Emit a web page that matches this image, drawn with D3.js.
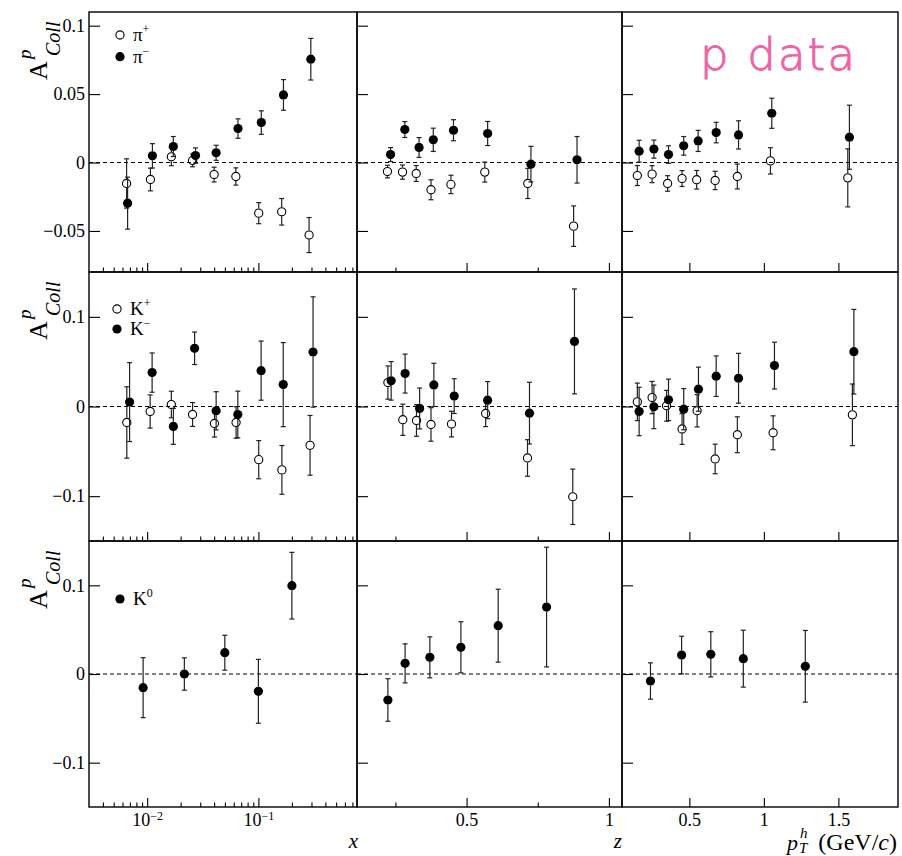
<!DOCTYPE html>
<html>
<head>
<meta charset="utf-8">
<script src="https://cdn.jsdelivr.net/npm/d3@7"></script>
<style>
  body { margin: 0; background: #fff; }
  svg text { font-family: "Liberation Serif", "Times New Roman", serif; fill: #000; }
</style>
</head>
<body>
<svg id="chart" width="902" height="856"></svg>
<script>
// each point: [bin centre, A_Coll, stat. error]
var piPlusX  = [[0.00653,-0.0153,0.018],[0.0107,-0.0124,0.0083],[0.0165,0.0042,0.0065],[0.0256,0.0015,0.0046],[0.0400,-0.0088,0.0054],[0.0627,-0.0102,0.0063],[0.1007,-0.037,0.0077],[0.162,-0.036,0.0097],[0.2856,-0.053,0.0128]];
var piMinusX = [[0.00667,-0.0297,0.019],[0.01115,0.0049,0.0089],[0.01718,0.0117,0.0073],[0.0272,0.0051,0.0056],[0.0417,0.0071,0.0055],[0.0656,0.0248,0.0071],[0.1062,0.0292,0.0086],[0.168,0.0494,0.0112],[0.296,0.0755,0.0152]];
var piPlusZ  = [[0.222,-0.0066,0.0046],[0.275,-0.0070,0.0052],[0.323,-0.008,0.0058],[0.375,-0.0199,0.0073],[0.445,-0.016,0.0067],[0.564,-0.007,0.0073],[0.715,-0.0153,0.011],[0.876,-0.0465,0.0148]];
var piMinusZ = [[0.233,0.0058,0.0051],[0.283,0.0241,0.0058],[0.333,0.011,0.0072],[0.383,0.0166,0.0085],[0.454,0.0236,0.0077],[0.574,0.0212,0.0088],[0.726,-0.0012,0.013],[0.888,0.002,0.017]];
var piPlusPt  = [[0.151,-0.0095,0.0073],[0.250,-0.0085,0.0062],[0.354,-0.0153,0.0057],[0.451,-0.0117,0.0058],[0.549,-0.0126,0.0068],[0.673,-0.0131,0.0067],[0.822,-0.0102,0.0091],[1.044,0.0012,0.0096],[1.563,-0.0112,0.0212]];
var piMinusPt = [[0.163,0.0083,0.008],[0.262,0.0098,0.0066],[0.360,0.0058,0.0064],[0.462,0.0122,0.0068],[0.559,0.0158,0.0077],[0.680,0.0219,0.0075],[0.830,0.0202,0.0103],[1.053,0.036,0.011],[1.574,0.0185,0.0234]];

var kPlusX  = [[0.00656,-0.0178,0.0398],[0.01064,-0.0056,0.0185],[0.0165,0.0022,0.0148],[0.0256,-0.0089,0.0133],[0.0403,-0.0189,0.0152],[0.063,-0.0178,0.0176],[0.1007,-0.0593,0.0213],[0.1627,-0.0707,0.0272],[0.2914,-0.0433,0.0333]];
var kMinusX = [[0.00695,0.0049,0.044],[0.01108,0.0378,0.0219],[0.0172,-0.0222,0.02],[0.0267,0.0649,0.0181],[0.0417,-0.0048,0.0213],[0.0653,-0.0089,0.026],[0.1058,0.04,0.033],[0.1672,0.0244,0.0469],[0.31,0.0608,0.0615]];
var kPlusZ  = [[0.2235,0.0267,0.0185],[0.276,-0.0148,0.0174],[0.324,-0.0156,0.0176],[0.375,-0.02,0.0187],[0.447,-0.0196,0.0143],[0.567,-0.0078,0.0146],[0.714,-0.0574,0.0204],[0.873,-0.1007,0.0309]];
var kMinusZ = [[0.235,0.0286,0.0215],[0.284,0.0367,0.0217],[0.335,-0.0022,0.0228],[0.385,0.0241,0.0241],[0.4565,0.0116,0.0194],[0.574,0.0071,0.0207],[0.721,-0.0074,0.0344],[0.879,0.0726,0.0585]];
var kPlusPt  = [[0.151,0.0052,0.0209],[0.25,0.01,0.018],[0.347,0.0008,0.0172],[0.451,-0.0251,0.0172],[0.552,-0.0048,0.018],[0.673,-0.0585,0.0165],[0.822,-0.0315,0.02],[1.062,-0.0293,0.0189],[1.594,-0.0093,0.0344]];
var kMinusPt = [[0.163,-0.0056,0.027],[0.262,-0.0004,0.0243],[0.36,0.0074,0.0231],[0.462,-0.003,0.023],[0.561,0.0193,0.0246],[0.68,0.0338,0.0226],[0.83,0.0315,0.0278],[1.071,0.0456,0.0261],[1.604,0.0611,0.0472]];

var k0X  = [[0.0092,-0.0154,0.0338],[0.0216,0,0.0182],[0.0499,0.024,0.0197],[0.1,-0.0195,0.036],[0.2,0.0996,0.0376]];
var k0Z  = [[0.2235,-0.0293,0.024],[0.284,0.012,0.022],[0.371,0.0188,0.0231],[0.48,0.0301,0.0288],[0.611,0.0545,0.0411],[0.781,0.0755,0.0675]];
var k0Pt = [[0.239,-0.0079,0.0205],[0.448,0.0214,0.0212],[0.644,0.0222,0.0255],[0.862,0.0173,0.0321],[1.278,0.0087,0.0404]];

// axis ranges and ticks
var xRange = [0.003, 0.77], zRange = [0.115, 1.046], ptRange = [0.048, 1.9];
var yRangePi = [-0.08, 0.11], yRangeK = [-0.15, 0.15];
var yTicksPi = [-0.05, 0, 0.05, 0.1], yTicksK = [-0.1, 0, 0.1];
var xMajor = [0.01, 0.1];
var zMajor = [0.5, 1], zMinor = [0.25, 0.75];
var ptMajor = [0.5, 1, 1.5];

var serif = "'Liberation Serif', 'Times New Roman', serif";
var svg = d3.select("#chart");
var colX = [89, 357, 622, 898],
    rowY = [12, 272, 541, 807];

var xMinor = [];
[0.001, 0.01, 0.1].forEach(function(dec) {
    for (var k = 2; k <= 9; k++) {
        var v = k * dec;
        if (v > xRange[0] && v < xRange[1]) xMinor.push(v);
    }
});

var xScales = [
    d3.scaleLog().domain(xRange).range([colX[0], colX[1]]),
    d3.scaleLinear().domain(zRange).range([colX[1], colX[2]]),
    d3.scaleLinear().domain(ptRange).range([colX[2], colX[3]])
];
var yScales = [yRangePi, yRangeK, yRangeK].map(function(d, i) {
    return d3.scaleLinear().domain(d).range([rowY[i + 1], rowY[i]]);
});

var rows = [
    {ticks: yTicksPi, series: [[piPlusX, piMinusX], [piPlusZ, piMinusZ], [piPlusPt, piMinusPt]], open: [true, false],
     legend: [{open: true, name: "\u03c0", sup: "+", dy: 23}, {open: false, name: "\u03c0", sup: "\u2212", dy: 44.7}], lx: 120},
    {ticks: yTicksK, series: [[kPlusX, kMinusX], [kPlusZ, kMinusZ], [kPlusPt, kMinusPt]], open: [true, false],
     legend: [{open: true, name: "K", sup: "+", dy: 37}, {open: false, name: "K", sup: "\u2212", dy: 57}], lx: 117},
    {ticks: yTicksK, series: [[k0X], [k0Z], [k0Pt]], open: [false],
     legend: [{open: false, name: "K", sup: "0", dy: 58}], lx: 120}
];

var R = 4.6;
var fmt = d3.format("~g");

function drawPoints(g, data, x, y, open) {
    var pts = g.append("g").selectAll("g").data(data).enter().append("g");
    // bars stop at the marker edge
    pts.append("line")
        .attr("x1", function(d) { return x(d[0]); })
        .attr("x2", function(d) { return x(d[0]); })
        .attr("y1", function(d) { return y(d[1] + d[2]); })
        .attr("y2", function(d) { return Math.max(y(d[1] + d[2]), y(d[1]) - R); })
        .attr("stroke", "#222").attr("stroke-width", 1.2);
    pts.append("line")
        .attr("x1", function(d) { return x(d[0]); })
        .attr("x2", function(d) { return x(d[0]); })
        .attr("y1", function(d) { return Math.min(y(d[1] - d[2]), y(d[1]) + R); })
        .attr("y2", function(d) { return y(d[1] - d[2]); })
        .attr("stroke", "#222").attr("stroke-width", 1.2);
    [1, -1].forEach(function(s) {
        pts.append("line")
            .attr("x1", function(d) { return x(d[0]) - 2.5; })
            .attr("x2", function(d) { return x(d[0]) + 2.5; })
            .attr("y1", function(d) { return y(d[1] + s * d[2]); })
            .attr("y2", function(d) { return y(d[1] + s * d[2]); })
            .attr("stroke", "#222").attr("stroke-width", 1.2);
    });
    pts.append("circle")
        .attr("cx", function(d) { return x(d[0]); })
        .attr("cy", function(d) { return y(d[1]); })
        .attr("r", open ? R - 0.5 : R)
        .attr("fill", open ? "none" : "#000")
        .attr("stroke", "#000")
        .attr("stroke-width", open ? 1.1 : 0);
}

rows.forEach(function(row, r) {
    var y = yScales[r];
    xScales.forEach(function(x, c) {
        var g = svg.append("g").attr("class", "panel");

        g.append("line")
            .attr("x1", colX[c]).attr("x2", colX[c + 1])
            .attr("y1", y(0)).attr("y2", y(0))
            .attr("stroke", "#000").attr("stroke-width", 1)
            .attr("stroke-dasharray", "4,3");

        row.series[c].forEach(function(data, s) {
            drawPoints(g, data, x, y, row.open[s]);
        });

        // y axis, ticks pointing in
        var ya = g.append("g")
            .attr("transform", "translate(" + colX[c] + ",0)")
            .call(d3.axisLeft(y).tickValues(row.ticks)
                .tickSizeInner(-11).tickSizeOuter(0).tickPadding(4)
                .tickFormat(c === 0 ? fmt : function() { return ""; }));
        ya.select(".domain").remove();

        // x axis
        var major = c === 0 ? xMajor : (c === 1 ? zMajor : ptMajor);
        var xa = g.append("g")
            .attr("transform", "translate(0," + rowY[r + 1] + ")")
            .call(d3.axisBottom(x).tickValues(major)
                .tickSizeInner(-9).tickSizeOuter(0).tickPadding(6)
                .tickFormat(r === 2 ? (c === 0 ? function() { return "10"; } : fmt) : function() { return ""; }));
        xa.select(".domain").remove();
        if (r === 2 && c === 0) {
            xa.selectAll(".tick text").append("tspan")
                .attr("dy", "-0.5em").attr("font-size", 12)
                .text(function(d) { return "\u2212" + Math.round(-Math.log10(d)); });
        }
        var minor = c === 0 ? xMinor : (c === 1 ? zMinor : []);
        if (minor.length) {
            var xm = g.append("g")
                .attr("transform", "translate(0," + rowY[r + 1] + ")")
                .call(d3.axisBottom(x).tickValues(minor)
                    .tickSizeInner(-4.5).tickSizeOuter(0).tickFormat(function() { return ""; }));
            xm.select(".domain").remove();
        }

        g.selectAll(".tick text").style("font-family", serif).attr("font-size", 18).attr("fill", "#000");
        g.selectAll(".tick line").attr("stroke", "#000").attr("stroke-width", 1.1);

        // frame
        g.append("rect")
            .attr("x", colX[c]).attr("y", rowY[r])
            .attr("width", colX[c + 1] - colX[c]).attr("height", rowY[r + 1] - rowY[r])
            .attr("fill", "none").attr("stroke", "#000").attr("stroke-width", 1.4);
    });

    // legend
    row.legend.forEach(function(l) {
        var ly = rowY[r] + l.dy;
        svg.append("circle")
            .attr("cx", row.lx).attr("cy", ly)
            .attr("r", l.open ? R - 0.5 : R)
            .attr("fill", l.open ? "none" : "#000")
            .attr("stroke", "#000").attr("stroke-width", l.open ? 1.1 : 0);
        var t = svg.append("text")
            .attr("x", row.lx + 13).attr("y", ly + 6)
            .attr("font-size", 19)
            .text(l.name);
        t.append("tspan").attr("dy", -8).attr("font-size", 12).text(l.sup);
    });

    // y title  A^p_Coll
    var yt = svg.append("g")
        .attr("transform", "translate(47," + (rowY[r] + 68) + ") rotate(-90)");
    yt.append("text").attr("x", 0).attr("y", 0).attr("font-size", 26).text("A");
    yt.append("text").attr("x", 21).attr("y", -16).attr("font-size", 19)
        .attr("font-style", "italic").text("p");
    yt.append("text").attr("x", 24).attr("y", 13).attr("font-size", 20)
        .attr("font-style", "italic").text("Coll");
});

// axis titles
svg.append("text").attr("x", 358).attr("y", 848).attr("text-anchor", "end")
    .attr("font-size", 21).attr("font-style", "italic").text("x");
svg.append("text").attr("x", 622).attr("y", 848).attr("text-anchor", "end")
    .attr("font-size", 21).attr("font-style", "italic").text("z");

var pt = svg.append("g").attr("transform", "translate(787,850)");
pt.append("text").attr("x", 0).attr("y", 0).attr("font-size", 22).attr("font-style", "italic").text("p");
pt.append("text").attr("x", 13).attr("y", -12).attr("font-size", 15).attr("font-style", "italic").text("h");
pt.append("text").attr("x", 12).attr("y", 3).attr("font-size", 15).attr("font-style", "italic").text("T");
var unit = pt.append("text").attr("x", 110).attr("y", 0).attr("text-anchor", "end")
    .attr("font-size", 24);
unit.append("tspan").text("(GeV/");
unit.append("tspan").attr("font-style", "italic").text("c");
unit.append("tspan").text(")");

// annotation
svg.append("text")
    .attr("x", 700).attr("y", 70)
    .attr("font-size", 45)
    .attr("font-weight", 200)
    .attr("textLength", 155)
    .style("font-family", "'DejaVu Sans', sans-serif")
    .style("fill", "#ee62a6")
    .style("stroke", "#ee62a6")
    .style("stroke-width", 0.9)
    .text("p data");
</script>
</body>
</html>
